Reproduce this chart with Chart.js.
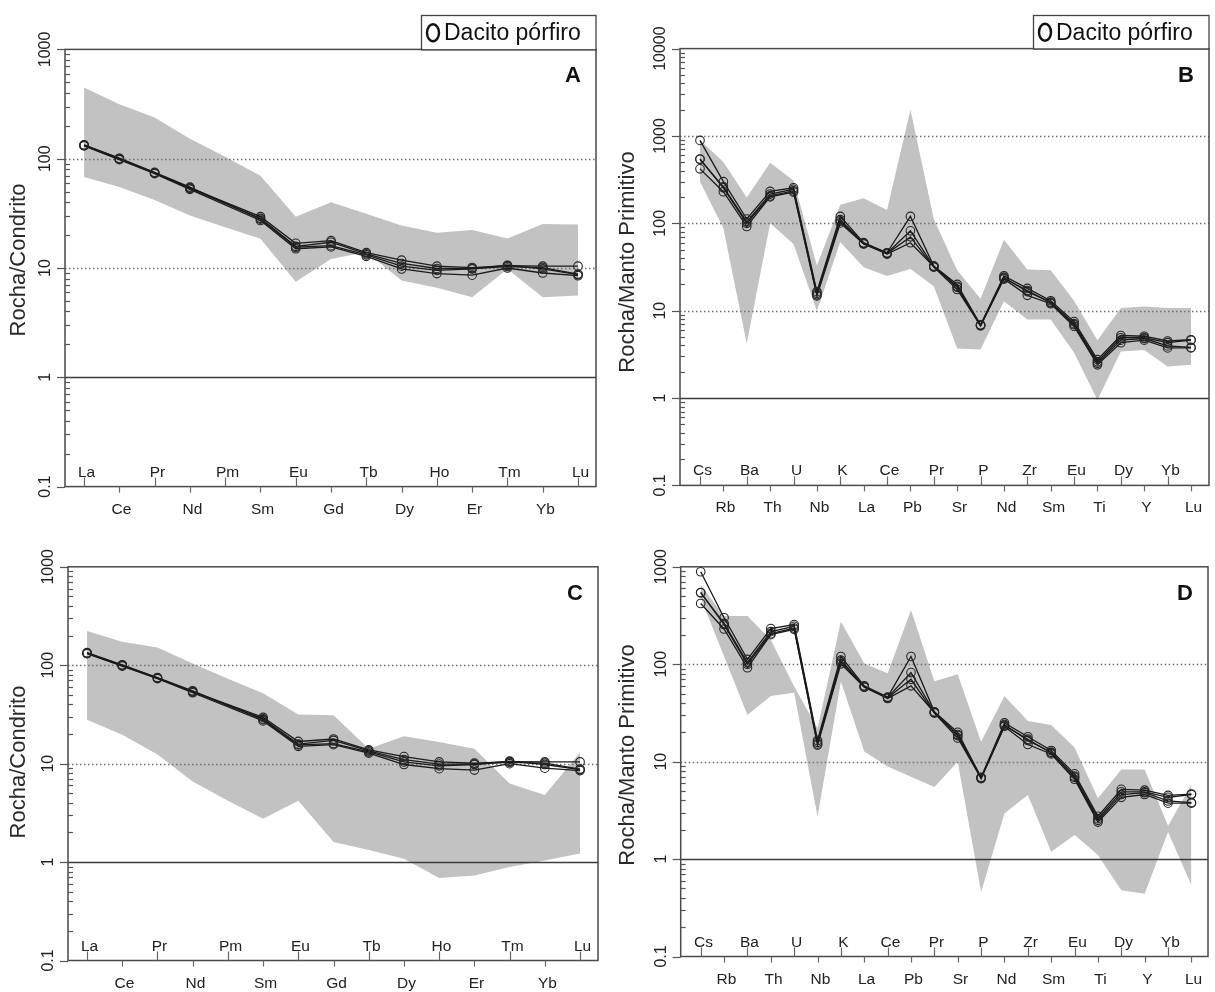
<!DOCTYPE html>
<html><head><meta charset="utf-8">
<script src="https://cdn.jsdelivr.net/npm/chart.js@4.4.1/dist/chart.umd.min.js"></script>
<style>
html,body{margin:0;padding:0;background:#fff;width:1215px;height:992px;overflow:hidden;}
canvas{position:absolute;}
</style></head><body>
<canvas id="cA" width="607" height="530" style="left:0;top:0;width:607px;height:530px"></canvas>
<canvas id="cB" width="608" height="530" style="left:607px;top:0;width:608px;height:530px"></canvas>
<canvas id="cC" width="607" height="462" style="left:0;top:530px;width:607px;height:462px"></canvas>
<canvas id="cD" width="608" height="462" style="left:607px;top:530px;width:608px;height:462px"></canvas>
<script>
// ---------- categories ----------
const reeLabels = ['La','Ce','Pr','Nd','Pm','Sm','Eu','Gd','Tb','Dy','Ho','Er','Tm','Yb','Lu'];
const spiderLabels = ['Cs','Rb','Ba','Th','U','Nb','K','La','Ce','Pb','Pr','Sr','P','Nd','Zr','Sm','Eu','Ti','Dy','Y','Yb','Lu'];

// ---------- samples: chondrite-normalised (A, C) ----------
const reeSample1 = [133, 100, 74, 54,   null, 29.5, 16.8, 17.8, 13.8, 11.8, 10.4, 10.1, 10.5, 10.4, 10.4];
const reeSample2 = [132, 99,  74, 53.5, null, 28.5, 15.8, 17.2, 13.5, 11.0, 9.9,  9.9,  10.3, 10.1, 8.8];
const reeSample3 = [131, 98,  73, 52.5, null, 27.2, 15.0, 15.6, 12.8, 9.8,  8.9,  8.6,  10.0, 9.0,  8.5];
const reeSample4 = [134, 101, 75, 55,   null, 28.0, 15.5, 16.0, 13.2, 10.4, 9.5,  9.8,  10.6, 9.8,  8.7];

// ---------- samples: primitive-mantle-normalised (B, D) ----------
const spiderSample1 = [890, 300, 112, 232, 255, 16.5, 120, 60,   46,   120, 32.5, 20,   6.9, 25,   18,   13,   7.5, 2.75, 5.2, 5.1, 4.5,  4.65];
const spiderSample2 = [540, 262, 104, 216, 245, 15.8, 110, 59,   45.5, 82,  32,   19,   6.8, 24,   16.5, 12.5, 7.1, 2.6,  4.9, 4.9, 4.3,  4.6];
const spiderSample3 = [420, 230, 92,  201, 228, 14.8, 101, 58,   45,   70,  31.5, 17.5, 6.7, 23,   15,   12,   6.6, 2.4,  4.3, 4.6, 3.75, 3.75];
const spiderSample4 = [545, 255, 100, 206, 235, 15.2, 106, 58.5, 44.5, 60,  32,   18.5, 6.8, 23.5, 17,   12.3, 6.9, 2.5,  4.6, 4.8, 3.95, 3.8];

// ---------- grey reference fields ----------
const bandAUpper = [448, 315, 238, 152, 104, 70, 29.5, 40, 31.3, 24.5, 21, 22.3, 18.6, 25.3, 25];
const bandALower = [68, 55, 42, 30.2, 23.6, 18.5, 7.5, 12.1, 14, 7.7, 6.6, 5.4, 9.8, 5.4, 5.6];
const bandCUpper = [223, 173, 151, 104, 73, 52, 31.5, 31, 14.2, 19, 16.6, 14.2, 6.3, 4.8, 13];
const bandCLower = [28, 19.7, 12.4, 6.6, 4.2, 2.76, 4.2, 1.6, 1.33, 1.08, 0.69, 0.73, 0.89, 1.04, 1.22];
const bandBUpper = [900, 505, 198, 495, 310, 33, 163, 193, 142, 2000, 112, 29, 13.7, 65, 29.6, 29, 13, 4.6, 10.7, 11.2, 10.7, 10.7];
const bandBLower = [300, 88, 4.2, 100, 58, 9.9, 61, 31.5, 25, 30, 19, 3.7, 3.6, 12.8, 7.9, 7.9, 3.3, 0.95, 3.4, 3.55, 2.3, 2.4];
const bandDUpper = [650, 313, 313, 178, 59, 22, 274, 102, 81, 361, 67, 79, 16, 47.3, 26.2, 23.8, 14, 4.2, 8.3, 8.3, 2.2, 5.8];
const bandDLower = [480, 120, 30.2, 47.3, 51, 2.74, 66, 12.7, 8.9, 7, 5.5, 10, 0.46, 2.94, 4.55, 1.19, 1.77, 1.1, 0.48, 0.44, 1.9, 0.54];

// ---------- axis ticks & texts ----------
const yTicksChondrite = [0.1, 1, 10, 100, 1000];
const yTickLabelsChondrite = ['0.1', '1', '10', '100', '1000'];
const yTicksMantleB = [0.1, 1, 10, 100, 1000, 10000];
const yTickLabelsMantleB = ['0.1', '1', '10', '100', '1000', '10000'];
const yTicksMantleD = [0.1, 1, 10, 100, 1000];
const yTickLabelsMantleD = ['0.1', '1', '10', '100', '1000'];
const yTitleChondrite = 'Rocha/Condrito';
const yTitleMantle = 'Rocha/Manto Primitivo';
const legendLabel = 'Dacito pórfiro';

const FONT = "'Liberation Sans', Arial, Helvetica, sans-serif";

const geo = {
  id: 'geo',
  beforeDatasetsDraw(chart, args, o) {
    const {ctx, chartArea: a} = chart; const y = chart.scales.y;
    ctx.save();
    for (const v of o.ticks) {
      if (v <= o.ymin * 1.0001 || v >= o.ymax * 0.9999) continue;
      const py = Math.round(y.getPixelForValue(v)) + 0.5;
      ctx.beginPath();
      if (v === 1) { ctx.setLineDash([]); ctx.strokeStyle = '#3c3c3c'; ctx.lineWidth = 1.6; }
      else { ctx.setLineDash([1.5, 2.5]); ctx.strokeStyle = '#707070'; ctx.lineWidth = 1.3; }
      ctx.moveTo(a.left, py); ctx.lineTo(a.right, py); ctx.stroke();
    }
    ctx.restore();
  },
  afterDatasetsDraw(chart, args, o) {
    const {ctx, chartArea: a} = chart; const x = chart.scales.x, y = chart.scales.y;
    ctx.save();
    ctx.setLineDash([]);
    // box
    ctx.strokeStyle = '#4a4a4a'; ctx.lineWidth = 1.5;
    ctx.strokeRect(a.left, a.top, a.right - a.left, a.bottom - a.top);
    // y ticks (major outward, minor inward)
    ctx.strokeStyle = '#555'; ctx.lineWidth = 1.2;
    for (const d of o.ticks) {
      for (let m = 1; m <= 9; m++) {
        const v = d * m;
        if (v > o.ymax * 1.0001) continue;
        const py = Math.round(y.getPixelForValue(v)) + 0.5;
        ctx.beginPath();
        if (m === 1) { ctx.moveTo(a.left - 8, py); ctx.lineTo(a.left, py); }
        else { ctx.moveTo(a.left, py); ctx.lineTo(a.left + 5, py); }
        ctx.stroke();
      }
    }
    // y tick labels rotated
    ctx.fillStyle = '#222';
    ctx.font = '16px ' + FONT;
    ctx.textAlign = 'center'; ctx.textBaseline = 'middle';
    o.ticks.forEach((v, i) => {
      const py = y.getPixelForValue(v);
      ctx.save(); ctx.translate(a.left - 19, py); ctx.rotate(-Math.PI / 2);
      ctx.fillText(o.tickLabels[i], 0, 0); ctx.restore();
    });
    // x ticks and alternating labels
    ctx.font = '15.5px ' + FONT; ctx.textBaseline = 'alphabetic';
    ctx.strokeStyle = '#666'; ctx.lineWidth = 1.2;
    o.cats.forEach((c, i) => {
      const px = Math.round(x.getPixelForValue(i)) + 0.5;
      ctx.beginPath();
      if (i % 2 === 0) { ctx.moveTo(px, a.bottom - 9); ctx.lineTo(px, a.bottom); ctx.stroke(); ctx.fillText(c, px + 2, a.bottom - 10); }
      else { ctx.moveTo(px, a.bottom); ctx.lineTo(px, a.bottom + 6); ctx.stroke(); ctx.fillText(c, px + 2, a.bottom + 27); }
    });
    // axis title
    ctx.font = '22px ' + FONT; ctx.textBaseline = 'middle'; ctx.fillStyle = '#2a2a2a';
    ctx.save(); ctx.translate(o.titleX, o.titleY); ctx.rotate(-Math.PI / 2); ctx.fillText(o.title, 0, 0); ctx.restore();
    // panel letter
    ctx.font = 'bold 22px ' + FONT; ctx.fillStyle = '#111';
    ctx.fillText(o.letter, a.right - 23, a.top + 27);
    // legend
    if (o.legend) {
      const L = o.legend;
      ctx.fillStyle = '#fff';
      ctx.fillRect(L.left, L.top, a.right - L.left, a.top - L.top);
      ctx.strokeStyle = '#444'; ctx.lineWidth = 1.3;
      ctx.strokeRect(L.left + 0.5, L.top + 0.5, a.right - L.left - 0.5, a.top - L.top);
      const cy = (L.top + a.top) / 2 + 0.5;
      ctx.beginPath(); ctx.ellipse(L.left + 12, cy, 6, 8.5, 0, 0, Math.PI * 2);
      ctx.strokeStyle = '#111'; ctx.lineWidth = 2.4; ctx.stroke();
      ctx.fillStyle = '#111'; ctx.font = '23px ' + FONT; ctx.textAlign = 'left';
      ctx.fillText(L.text, L.left + 23, cy + 1);
    }
    ctx.restore();
  }
};

function pts(arr) { return arr.map((v, i) => ({x: i, y: v})); }

function makePanel(id, p) {
  const datasets = [
    {data: pts(p.upper), fill: '+1', backgroundColor: '#c2c2c2', borderColor: 'rgba(0,0,0,0)', borderWidth: 0, pointRadius: 0, order: 10, tension: 0},
    {data: pts(p.lower), fill: false, backgroundColor: '#c2c2c2', borderColor: 'rgba(0,0,0,0)', borderWidth: 0, pointRadius: 0, order: 10, tension: 0}
  ];
  p.samples.forEach(s => datasets.push({
    data: pts(s), fill: false, borderColor: '#1a1a1a', borderWidth: 1.3, spanGaps: true, tension: 0,
    pointRadius: 4.3, pointBorderColor: '#262626', pointBorderWidth: 1.1, pointBackgroundColor: 'rgba(255,255,255,0)', order: 1
  }));
  const cv = document.getElementById(id);
  new Chart(cv, {
    type: 'line',
    data: {datasets},
    plugins: [geo],
    options: {
      responsive: false, animation: false, devicePixelRatio: 1,
      layout: {padding: {left: p.area.left, right: cv.width - p.area.right, top: p.area.top, bottom: cv.height - p.area.bottom}},
      scales: {
        x: {type: 'linear', display: false, min: p.xmin, max: p.xmax},
        y: {type: 'logarithmic', display: false, min: p.ticks[0], max: p.ticks[p.ticks.length - 1]}
      },
      plugins: {
        legend: {display: false}, tooltip: {enabled: false},
        filler: {drawTime: 'beforeDatasetsDraw'},
        geo: {
          ticks: p.ticks, tickLabels: p.tickLabels, ymin: p.ticks[0], ymax: p.ticks[p.ticks.length - 1],
          cats: p.cats, title: p.title, titleX: p.titleX, titleY: p.titleY, letter: p.letter, legend: p.legend
        }
      }
    }
  });
}

makePanel('cA', {
  area: {left: 65, right: 596, top: 49.4, bottom: 486.6}, xmin: -0.54, xmax: 14.51,
  upper: bandAUpper, lower: bandALower, samples: [reeSample1, reeSample2, reeSample3, reeSample4],
  ticks: yTicksChondrite, tickLabels: yTickLabelsChondrite, cats: reeLabels,
  title: yTitleChondrite, titleX: 19, titleY: 260, letter: 'A',
  legend: {left: 421, top: 15, text: legendLabel}
});
makePanel('cB', {
  area: {left: 73, right: 602, top: 48.6, bottom: 485.4}, xmin: -0.855, xmax: 21.77,
  upper: bandBUpper, lower: bandBLower, samples: [spiderSample1, spiderSample2, spiderSample3, spiderSample4],
  ticks: yTicksMantleB, tickLabels: yTickLabelsMantleB, cats: spiderLabels,
  title: yTitleMantle, titleX: 21, titleY: 262, letter: 'B',
  legend: {left: 426, top: 15, text: legendLabel}
});
makePanel('cC', {
  area: {left: 68, right: 598, top: 36.8, bottom: 430.5}, xmin: -0.54, xmax: 14.51,
  upper: bandCUpper, lower: bandCLower, samples: [reeSample1, reeSample2, reeSample3, reeSample4],
  ticks: yTicksChondrite, tickLabels: yTickLabelsChondrite, cats: reeLabels,
  title: yTitleChondrite, titleX: 19, titleY: 232, letter: 'C', legend: null
});
makePanel('cD', {
  area: {left: 73.7, right: 601, top: 36.8, bottom: 426.5}, xmin: -0.856, xmax: 21.71,
  upper: bandDUpper, lower: bandDLower, samples: [spiderSample1, spiderSample2, spiderSample3, spiderSample4],
  ticks: yTicksMantleD, tickLabels: yTickLabelsMantleD, cats: spiderLabels,
  title: yTitleMantle, titleX: 21, titleY: 225, letter: 'D', legend: null
});
</script>
</body></html>
